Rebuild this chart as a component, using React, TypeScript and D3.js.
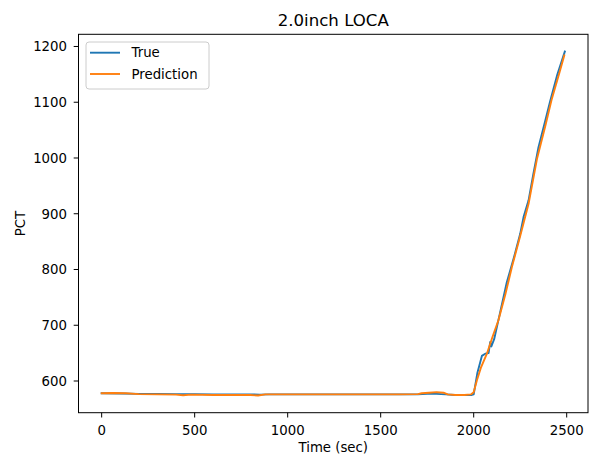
import React from "react";
import * as d3 from "d3";

const trueTime = [0, 100, 200, 300, 400, 500, 600, 700, 800, 850, 900, 1000, 1100, 1200, 1300, 1400, 1500, 1600, 1700, 1750, 1800, 1850, 1900, 1950, 1990, 2000, 2020, 2044, 2062, 2080, 2089, 2095, 2110, 2140, 2178, 2215, 2250, 2268, 2295, 2320, 2348, 2384, 2411, 2450, 2490];
const trueValues = [578, 577.5, 577, 577, 576.5, 576.5, 576, 576, 576, 575.5, 576, 576, 576, 576, 576, 576, 576, 576, 576, 577, 577, 576, 575, 575, 575, 576, 615, 645, 649, 650, 670, 662, 675, 720, 777, 820, 864, 894, 924, 970, 1019, 1066, 1102, 1150, 1191];

const predTime = [0, 60, 130, 200, 300, 400, 438, 480, 600, 700, 800, 841, 880, 1000, 1200, 1400, 1600, 1700, 1720, 1760, 1800, 1838, 1860, 1900, 1950, 1985, 2000, 2017, 2040, 2071, 2100, 2133, 2170, 2205, 2250, 2295, 2340, 2384, 2420, 2460, 2487];
const predValues = [578, 578.5, 578, 576.5, 576, 575.5, 574.5, 575.5, 575, 575, 575, 574, 576, 576, 576, 576, 576, 576.5, 578, 579, 580, 579, 576, 575, 575, 576, 580, 601, 625, 649, 678, 709, 755, 804, 860, 918, 998, 1056, 1106, 1152, 1184];

const xTicks = [0, 500, 1000, 1500, 2000, 2500];
const yTicks = [600, 700, 800, 900, 1000, 1100, 1200];
const seriesNames = ["True", "Prediction"];
const colors = ["#1f77b4", "#ff7f0e"];

export default function App() {
  const W = 592, H = 458;
  const left = 78.5, right = 588, top = 34.3, bottom = 412.7;
  const allT = [...trueTime, ...predTime];
  const allV = [...trueValues, ...predValues];
  const [tMin, tMax] = d3.extent(allT) as [number, number];
  const [vMin, vMax] = d3.extent(allV) as [number, number];
  const tm = (tMax - tMin) * 0.05;
  const vm = (vMax - vMin) * 0.05;
  const x = d3.scaleLinear().domain([tMin - tm, tMax + tm]).range([left, right]);
  const y = d3.scaleLinear().domain([vMin - vm, vMax + vm]).range([bottom, top]);
  const line = d3.line<[number, number]>().x(d => x(d[0])).y(d => y(d[1]));
  const trueData = trueTime.map((t, i) => [t, trueValues[i]] as [number, number]);
  const predData = predTime.map((t, i) => [t, predValues[i]] as [number, number]);
  const font = "DejaVu Sans";
  const fs = 13.3;
  return (
    <svg width={W} height={H} style={{ position: "absolute", left: 0, top: 0, display: "block", background: "#fff" }} fontFamily={font}>
      <rect x={0} y={0} width={W} height={H} fill="#fff" />
      <defs>
        <clipPath id="clip"><rect x={left} y={top} width={right - left} height={bottom - top} /></clipPath>
      </defs>
      <g clipPath="url(#clip)" fill="none" strokeWidth={1.9} strokeLinejoin="round" strokeLinecap="square">
        <path d={line(trueData) || ""} stroke={colors[0]} />
        <path d={line(predData) || ""} stroke={colors[1]} />
      </g>
      <rect x={left} y={top} width={right - left} height={bottom - top} fill="none" stroke="#000" strokeWidth={1} />
      {xTicks.map(t => (
        <g key={"x" + t}>
          <line x1={x(t)} x2={x(t)} y1={bottom} y2={bottom + 4.8} stroke="#000" strokeWidth={1} />
          <text x={x(t)} y={434.5} fontSize={fs} textAnchor="middle" fill="#000">{t}</text>
        </g>
      ))}
      {yTicks.map(v => (
        <g key={"y" + v}>
          <line x1={left - 4.8} x2={left} y1={y(v)} y2={y(v)} stroke="#000" strokeWidth={1} />
          <text x={67} y={y(v)} dy="0.36em" fontSize={fs} textAnchor="end" fill="#000">{v}</text>
        </g>
      ))}
      <text x={(left + right) / 2} y={26} fontSize={16.6} textAnchor="middle" fill="#000">2.0inch LOCA</text>
      <text x={(left + right) / 2} y={452} fontSize={fs} textAnchor="middle" fill="#000">Time (sec)</text>
      <text transform={`translate(25,${(top + bottom) / 2}) rotate(-90)`} fontSize={fs} textAnchor="middle" fill="#000">PCT</text>
      <g>
        <rect x={86} y={42} width={123} height={47} rx={3} fill="#fff" fillOpacity={0.8} stroke="#cccccc" strokeWidth={1} />
        {seriesNames.map((n, i) => (
          <g key={n}>
            <line x1={90} x2={120} y1={52.7 + i * 21.3} y2={52.7 + i * 21.3} stroke={colors[i]} strokeWidth={1.9} />
            <text x={131.5} y={52.7 + i * 21.3} dy="0.36em" fontSize={fs} fill="#000">{n}</text>
          </g>
        ))}
      </g>
    </svg>
  );
}
